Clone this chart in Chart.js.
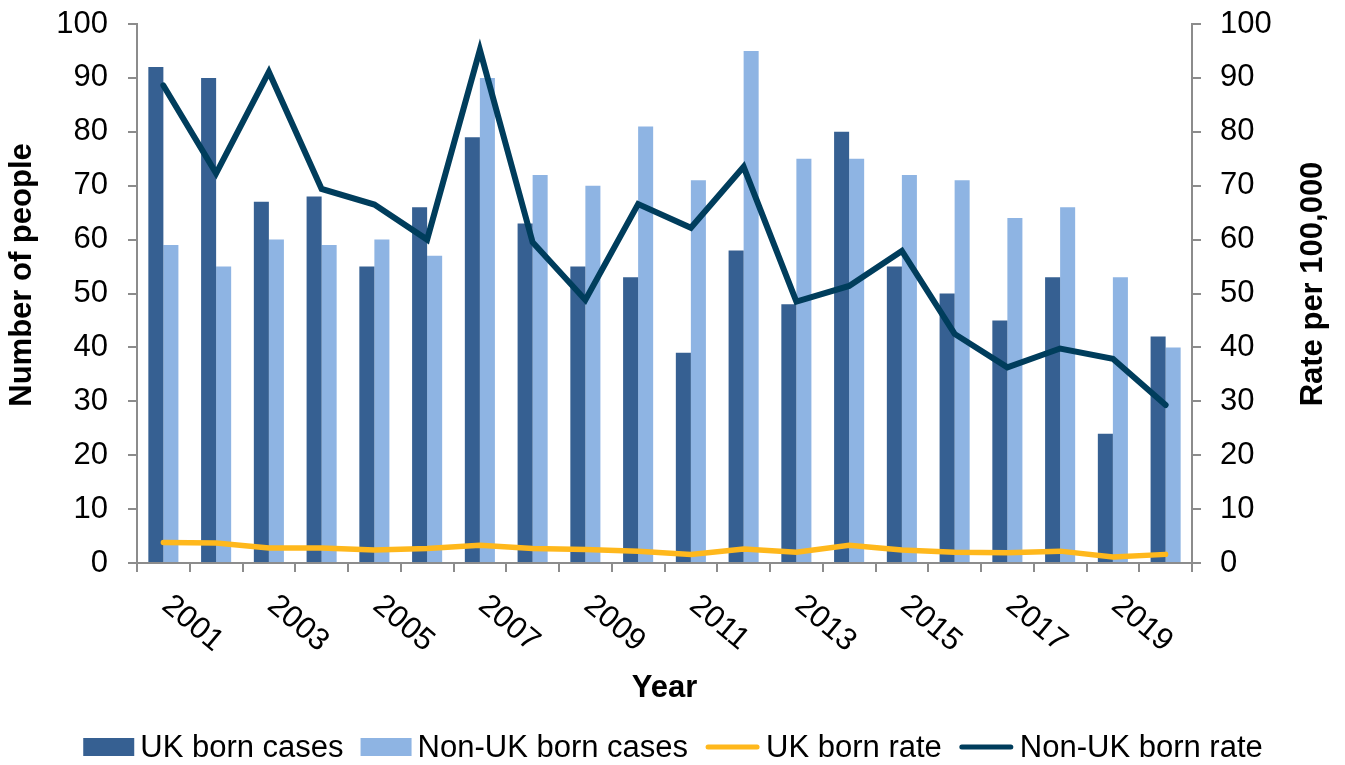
<!DOCTYPE html>
<html>
<head>
<meta charset="utf-8">
<title>Cases and rates by place of birth</title>
<script src="https://cdn.jsdelivr.net/npm/chart.js@4.4.1/dist/chart.umd.min.js"></script>
<style>
  html, body { margin: 0; padding: 0; background: #fff; }
  canvas { display: block; }
</style>
</head>
<body>
<canvas id="chart" width="1345" height="765"></canvas>
<script>
// Yearly counts (left axis) and rates per 100,000 (right axis)
const years = ['2001', '2002', '2003', '2004', '2005', '2006', '2007', '2008', '2009', '2010',
               '2011', '2012', '2013', '2014', '2015', '2016', '2017', '2018', '2019', '2020'];
const ukCases    = [92, 90, 67, 68, 55, 66, 79, 63, 55, 53, 39, 58, 48, 80, 55, 50, 45, 53, 24, 42];
const nonUkCases = [59, 55, 60, 59, 60, 57, 90, 72, 70, 81, 71, 95, 75, 75, 72, 71, 64, 66, 53, 40];
const ukRate     = [3.8, 3.7, 2.8, 2.8, 2.4, 2.7, 3.3, 2.7, 2.5, 2.2, 1.6, 2.6, 2.0, 3.3, 2.4, 2.0, 1.9, 2.2, 1.1, 1.6];
const nonUkRate  = [88.6, 72.3, 91.1, 69.4, 66.5, 60.0, 95.2, 59.5, 48.8, 66.6, 62.2, 73.5, 48.5, 51.4, 57.9, 42.5, 36.3, 39.8, 37.9, 29.3];

const DARK = '#366092';
const LIGHT = '#8EB4E3';
const GOLD = '#FFB81C';
const NAVY = '#003D5C';
const AXIS = '#8c8c8c';
const FONT = "'Liberation Sans', Arial, sans-serif";

// x tick labels, axis titles and the legend are painted here
const extras = {
  id: 'extras',
  afterDraw(chart) {
    const c = chart.ctx;
    const xs = chart.scales.x;
    c.save();
    c.fillStyle = '#000';

    // slanted year labels, every other category, reading downwards
    c.font = '31px ' + FONT;
    c.textAlign = 'left';
    c.textBaseline = 'alphabetic';
    years.forEach((y, i) => {
      if (i % 2) return;
      c.save();
      c.translate(xs.getPixelForValue(i) - 3, xs.top + 45);
      c.rotate(40 * Math.PI / 180);
      c.fillText(y, 0, 0);
      c.restore();
    });

    // vertical axis titles
    c.font = 'bold 31px ' + FONT;
    c.textAlign = 'center';
    c.textBaseline = 'middle';
    c.save();
    c.translate(22, 275);
    c.rotate(-Math.PI / 2);
    c.fillText('Number of people', 0, 0);
    c.restore();
    c.save();
    c.translate(1313, 284);
    c.rotate(-Math.PI / 2);
    c.fillText('Rate per 100,000', 0, 0);
    c.restore();

    // legend
    c.font = '31px ' + FONT;
    c.textAlign = 'left';
    const items = chart.data.datasets.map(ds => ({
      text: ds.label,
      line: ds.type === 'line',
      color: ds.type === 'line' ? ds.borderColor : ds.backgroundColor
    }));
    const gap = 6, spacing = 17;
    let total = 0;
    items.forEach(it => {
      it.mw = it.line ? 55 : 51;
      it.tw = c.measureText(it.text).width;
      total += it.mw + gap + it.tw;
    });
    total += spacing * (items.length - 1);
    let x = 673 - total / 2;
    const cy = 747;
    items.forEach(it => {
      if (it.line) {
        c.strokeStyle = it.color;
        c.lineWidth = 5;
        c.lineCap = 'round';
        c.beginPath();
        c.moveTo(x + 3, cy);
        c.lineTo(x + it.mw - 3, cy);
        c.stroke();
      } else {
        c.fillStyle = it.color;
        c.fillRect(x, cy - 9, it.mw, 18);
      }
      c.fillStyle = '#000';
      c.fillText(it.text, x + it.mw + gap, cy + 1);
      x += it.mw + gap + it.tw + spacing;
    });
    c.restore();
  }
};

const tickFont = { family: FONT, size: 31 };

// fixed axis widths; the top label may overhang the canvas margin
function fixWidth(w) {
  return s => {
    s.width = w;
    s.paddingTop = 0;
    s.paddingBottom = 0;
  };
}

new Chart(document.getElementById('chart'), {
  type: 'bar',
  data: {
    labels: years,
    datasets: [
      { label: 'UK born cases', data: ukCases, backgroundColor: DARK, yAxisID: 'y', order: 1,
        categoryPercentage: 0.57, barPercentage: 1.0 },
      { label: 'Non-UK born cases', data: nonUkCases, backgroundColor: LIGHT, yAxisID: 'y', order: 1,
        categoryPercentage: 0.57, barPercentage: 1.0 },
      { type: 'line', label: 'UK born rate', data: ukRate, borderColor: GOLD, backgroundColor: GOLD,
        borderWidth: 5.5, pointRadius: 0, tension: 0, borderCapStyle: 'round', yAxisID: 'y1', order: 0 },
      { type: 'line', label: 'Non-UK born rate', data: nonUkRate, borderColor: NAVY, backgroundColor: NAVY,
        borderWidth: 6, pointRadius: 0, tension: 0, borderCapStyle: 'round', yAxisID: 'y1', order: 0 }
    ]
  },
  options: {
    responsive: false,
    animation: false,
    layout: { padding: { top: 24, bottom: 61, left: 0, right: 0 } },
    plugins: {
      legend: { display: false },
      tooltip: { enabled: false }
    },
    scales: {
      x: {
        offset: true,
        grid: { offset: true, drawOnChartArea: false, tickLength: 9, color: AXIS, lineWidth: 2 },
        border: { color: AXIS, width: 2 },
        ticks: { display: false, autoSkip: false },
        title: {
          display: true, text: 'Year', color: '#000',
          font: { family: FONT, size: 31, weight: 'bold', lineHeight: 1 },
          padding: { top: 0, bottom: 0 }
        },
        afterFit: s => { s.height = 141; }
      },
      y: {
        position: 'left',
        min: 0, max: 100,
        ticks: { stepSize: 10, color: '#000', font: tickFont, padding: 20 },
        grid: { drawOnChartArea: false, tickLength: 9, color: AXIS, lineWidth: 2 },
        border: { color: AXIS, width: 2 },
        afterFit: fixWidth(137)
      },
      y1: {
        position: 'right',
        min: 0, max: 100,
        ticks: { stepSize: 10, color: '#000', font: tickFont, padding: 19 },
        grid: { drawOnChartArea: false, tickLength: 9, color: AXIS, lineWidth: 2 },
        border: { color: AXIS, width: 2 },
        afterFit: fixWidth(153)
      }
    }
  },
  plugins: [extras]
});
</script>
</body>
</html>
